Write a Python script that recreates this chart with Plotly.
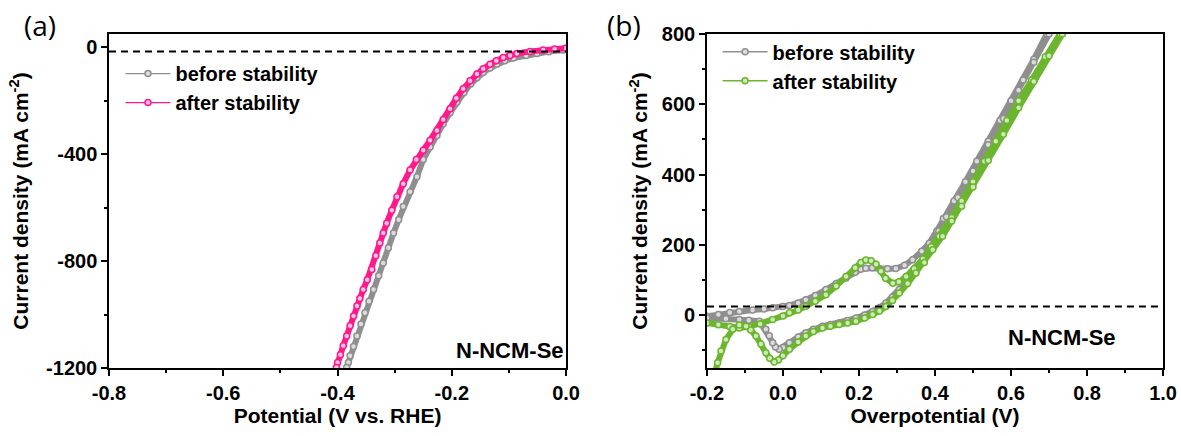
import plotly.graph_objects as go

# ---------------- Panel (a): LSV before / after stability ----------------
a_before_v = [-0.002, -0.005, -0.030, -0.051, -0.070, -0.092, -0.107, -0.121, -0.133, -0.145,
              -0.156, -0.167, -0.179, -0.191, -0.203, -0.215, -0.226, -0.238, -0.250, -0.261,
              -0.273, -0.285, -0.293, -0.302, -0.311, -0.320, -0.328, -0.337, -0.345, -0.352,
              -0.359, -0.366, -0.372, -0.378, -0.381, -0.384]
a_before_j = [-4, -10, -16, -23, -30, -40, -50, -63, -77, -94,
              -114, -137, -170, -205, -245, -286, -330, -373, -420, -484,
              -540, -596, -645, -695, -750, -807, -855, -906, -950, -993,
              -1035, -1080, -1120, -1154, -1179, -1198]

a_after_v = [0.000, -0.020, -0.040, -0.063, -0.086, -0.098, -0.110, -0.122, -0.133, -0.145,
             -0.156, -0.168, -0.180, -0.192, -0.203, -0.215, -0.226, -0.238, -0.250, -0.262,
             -0.273, -0.285, -0.296, -0.305, -0.314, -0.320, -0.326, -0.333, -0.340, -0.348,
             -0.355, -0.361, -0.366, -0.372, -0.378, -0.384, -0.390, -0.395, -0.400, -0.402]
a_after_j = [-3, -6, -10, -15, -23, -30, -38, -50, -63, -80,
             -100, -125, -155, -190, -230, -270, -311, -348, -385, -420,
             -459, -510, -559, -610, -658, -695, -732, -780, -831, -870,
             -906, -940, -968, -1005, -1042, -1080, -1117, -1150, -1179, -1198]

# ---------------- Panel (b): CV before / after stability ----------------
b_before_v = [-0.200, -0.170, -0.140, -0.115, -0.080, -0.050, -0.027, 0.000, 0.017, 0.040,
              0.060, 0.085, 0.113, 0.140, 0.166, 0.190, 0.205, 0.218, 0.235, 0.253,
              0.275, 0.297, 0.320, 0.341, 0.365, 0.385, 0.405, 0.422, 0.450, 0.480,
              0.510, 0.540, 0.571, 0.600, 0.632, 0.660, 0.694, 0.705,
              0.700, 0.660, 0.620, 0.580, 0.540, 0.500, 0.460, 0.430, 0.410, 0.394,
              0.370, 0.350, 0.328, 0.306, 0.288, 0.271, 0.255, 0.236, 0.215, 0.192,
              0.170, 0.148, 0.125, 0.104, 0.080, 0.060, 0.040, 0.017, 0.000, -0.010,
              -0.020, -0.027, -0.036, -0.045, -0.055, -0.062, -0.090, -0.115, -0.150, -0.200]
b_before_j = [-3, 2, 8, 11, 15, 18, 21, 25, 28, 35,
              44, 56, 73, 90, 106, 122, 131, 134, 135, 133,
              132, 133, 142, 158, 182, 205, 240, 275, 325, 380,
              438, 495, 554, 610, 669, 728, 800, 820,
              800, 720, 640, 560, 485, 410, 335, 280, 240, 200,
              160, 129, 100, 73, 52, 35, 22, 11, 1, -8,
              -15, -22, -26, -31, -40, -50, -62, -78, -92, -97,
              -90, -78, -58, -40, -25, -17, -14, -12, -10, -8]

b_after_v = [-0.200, -0.170, -0.140, -0.115, -0.090, -0.060, -0.027, 0.000, 0.017, 0.040,
             0.060, 0.085, 0.113, 0.140, 0.166, 0.190, 0.205, 0.218, 0.232, 0.245,
             0.258, 0.270, 0.289, 0.305, 0.324, 0.345, 0.368, 0.390, 0.411, 0.444,
             0.470, 0.500, 0.530, 0.560, 0.589, 0.620, 0.654, 0.690, 0.729, 0.740,
             0.735, 0.700, 0.660, 0.620, 0.580, 0.540, 0.500, 0.470, 0.444, 0.420,
             0.394, 0.372, 0.350, 0.328, 0.306, 0.288, 0.271, 0.254, 0.236, 0.215,
             0.192, 0.170, 0.148, 0.125, 0.104, 0.080, 0.060, 0.040, 0.017, 0.000,
             -0.012, -0.023, -0.035, -0.045, -0.058, -0.071, -0.085, -0.097, -0.115, -0.132,
             -0.150, -0.163, -0.172, -0.178]
b_after_j = [-22, -27, -32, -36, -33, -25, -12, -2, 7, 15,
             25, 40, 58, 83, 110, 135, 150, 157, 155, 145,
             125, 105, 91, 95, 110, 132, 160, 195, 225, 278,
             325, 380, 438, 495, 554, 610, 669, 735, 800, 820,
             800, 738, 665, 590, 515, 440, 365, 310, 268, 225,
             186, 150, 120, 90, 63, 42, 25, 12, 2, -8,
             -17, -22, -26, -31, -36, -46, -59, -76, -97, -115,
             -127, -133, -122, -107, -82, -59, -42, -31, -28, -40,
             -69, -102, -135, -160]

# tick labels (hyphen minus as in the original figure)
a_xticks = [-0.8, -0.6, -0.4, -0.2, 0.0]
a_xlabels = ["-0.8", "-0.6", "-0.4", "-0.2", "0.0"]
a_yticks = [-1200, -800, -400, 0]
a_ylabels = ["-1200", "-800", "-400", "0"]
b_xticks = [-0.2, 0.0, 0.2, 0.4, 0.6, 0.8, 1.0]
b_xlabels = ["-0.2", "0.0", "0.2", "0.4", "0.6", "0.8", "1.0"]
b_yticks = [0, 200, 400, 600, 800]
b_ylabels = ["0", "200", "400", "600", "800"]

names = ["before stability", "after stability"]
GRAY = "#8f8f8f"
PINK = "#ff1a8c"
GREEN = "#6cb62f"

FONT = "Liberation Sans, Arial, sans-serif"

fig = go.Figure()


def add_series(x, y, color, fill, name, xa, ya, legend):
    # thick band underneath (no legend entry)
    fig.add_trace(go.Scatter(
        x=x, y=y, mode="lines", showlegend=False, hoverinfo="skip",
        xaxis=xa, yaxis=ya, line=dict(color=color, width=6),
    ))
    # markers + thin line, shown in legend
    fig.add_trace(go.Scatter(
        x=x, y=y, mode="lines+markers", name=name,
        xaxis=xa, yaxis=ya, legend=legend,
        line=dict(color=color, width=1.3),
        marker=dict(symbol="circle", size=6, color=fill,
                    line=dict(color=color, width=1.5)),
    ))


add_series(a_before_v, a_before_j, GRAY, "#dcdcdc", names[0], "x", "y", "legend")
add_series(a_after_v, a_after_j, PINK, "#ffc2e0", names[1], "x", "y", "legend")
add_series(b_before_v, b_before_j, GRAY, "#dcdcdc", names[0], "x2", "y2", "legend2")
add_series(b_after_v, b_after_j, GREEN, "#cfe9b8", names[1], "x2", "y2", "legend2")

axis_common = dict(
    showline=True, linecolor="black", linewidth=1.5, mirror=True,
    ticks="outside", ticklen=6, tickwidth=1.5, tickcolor="black",
    showgrid=False, zeroline=False, automargin=False,
    tickfont=dict(family=FONT, size=20, color="black", weight="bold"),
)
title_font = dict(family=FONT, size=21, color="black", weight="bold")
minor_common = dict(ticks="outside", ticklen=3, tickwidth=1.5, tickcolor="black")

ytitle = "Current density (mA cm<sup>-2</sup>)"

fig.update_layout(
    width=1181, height=436,
    margin=dict(l=0, r=0, t=0, b=0, autoexpand=False),
    paper_bgcolor="white", plot_bgcolor="white",
    font=dict(family=FONT, color="black"),
    xaxis=dict(domain=[0.0923, 0.4793], range=[-0.8, 0.0],
               tickmode="array", tickvals=a_xticks, ticktext=a_xlabels,
               minor=dict(dtick=0.1, tick0=-0.8, **minor_common),
               title=dict(text="Potential (V vs. RHE)", standoff=3, font=title_font),
               anchor="y", **axis_common),
    yaxis=dict(domain=[0.156, 0.922], range=[-1200, 50],
               tickmode="array", tickvals=a_yticks, ticktext=a_ylabels,
               minor=dict(dtick=200, tick0=0, **minor_common),
               title=dict(text=ytitle, standoff=12, font=title_font),
               anchor="x", **axis_common),
    xaxis2=dict(domain=[0.5986, 0.9848], range=[-0.2, 1.0],
                tickmode="array", tickvals=b_xticks, ticktext=b_xlabels,
                minor=dict(dtick=0.1, tick0=-0.2, **minor_common),
                title=dict(text="Overpotential (V)", standoff=3, font=title_font),
                anchor="y2", **axis_common),
    yaxis2=dict(domain=[0.156, 0.922], range=[-150, 800],
                tickmode="array", tickvals=b_yticks, ticktext=b_ylabels,
                minor=dict(dtick=100, tick0=0, **minor_common),
                title=dict(text=ytitle, standoff=8, font=title_font),
                anchor="x2", **axis_common),
    legend=dict(x=0.102, y=0.876, xanchor="left", yanchor="top",
                bgcolor="rgba(0,0,0,0)", tracegroupgap=0, itemwidth=45,
                font=dict(family=FONT, size=20, color="black", weight="bold")),
    legend2=dict(x=0.6076, y=0.926, xanchor="left", yanchor="top",
                 bgcolor="rgba(0,0,0,0)", tracegroupgap=0, itemwidth=45,
                 font=dict(family=FONT, size=20, color="black", weight="bold")),
    showlegend=True,
)

# reference dashed lines
fig.add_shape(type="line", xref="x", yref="y", x0=-0.8, x1=0.0, y0=-15, y1=-15,
              line=dict(color="black", width=2, dash="7px,5px"), layer="above")
fig.add_shape(type="line", xref="x2", yref="y2", x0=-0.2, x1=1.0, y0=25, y1=25,
              line=dict(color="black", width=2, dash="7px,5px"), layer="above")

# panel labels and sample labels
for txt, xp in [("(a)", 0.034), ("(b)", 0.528)]:
    fig.add_annotation(text=txt, xref="paper", yref="paper", x=xp, y=0.943,
                       showarrow=False, xanchor="center", yanchor="middle",
                       font=dict(family="Open Sans, sans-serif", size=28, color="black"))

fig.add_annotation(text="N-NCM-Se", xref="paper", yref="paper", x=0.432, y=0.197,
                   showarrow=False, xanchor="center", yanchor="middle",
                   font=dict(family=FONT, size=22, color="black", weight="bold"))
fig.add_annotation(text="N-NCM-Se", xref="paper", yref="paper", x=0.899, y=0.227,
                   showarrow=False, xanchor="center", yanchor="middle",
                   font=dict(family=FONT, size=22, color="black", weight="bold"))

fig.write_html("out.html")
